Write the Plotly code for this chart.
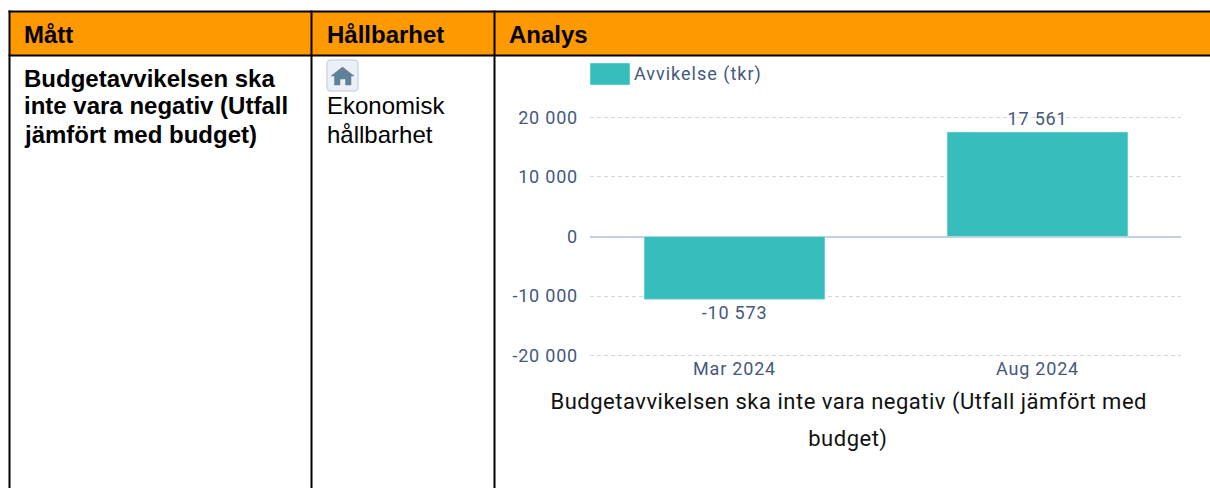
import plotly.graph_objects as go

W, H = 1210, 488

# ---- data ----
categories = ["Mar 2024", "Aug 2024"]
values = [-10573, 17561]
value_labels = ["-10 573", "17 561"]
series_name = "Avvikelse (tkr)"
tick_values = [20000, 10000, 0, -10000, -20000]
tick_labels = ["20 000", "10 000", "0", "-10 000", "-20 000"]
chart_title_lines = ["Budgetavvikelsen ska inte vara negativ (Utfall jämfört med", "budget)"]
table_headers = ["Mått", "Hållbarhet", "Analys"]
measure_lines = ["Budgetavvikelsen ska", "inte vara negativ (Utfall", "jämfört med budget)"]
sustain_lines = ["Ekonomisk", "hållbarhet"]

# ---- styles ----
TEAL = "#38BDBD"
AXIS_TEXT = "#44597C"
ORANGE = "#FF9900"
TABLE_FONT = "Liberation Sans"
CHART_FONT = "Roboto"


def px(x):
    return x / W


def py(y):
    return 1 - y / H


def rect(x0, y0, x1, y1, fill="rgba(0,0,0,0)", line=None, lw=0, layer="above"):
    return dict(type="rect", xref="paper", yref="paper", x0=px(x0), x1=px(x1), y0=py(y1), y1=py(y0),
                fillcolor=fill, line=dict(color=line or "rgba(0,0,0,0)", width=lw), layer=layer)


def label(x, y, text, size, color="#000", font=TABLE_FONT, anchor="left", bold=False):
    return dict(xref="paper", yref="paper", x=px(x), y=py(y), text=f"<b>{text}</b>" if bold else text,
                showarrow=False, xanchor=anchor, yanchor="middle", align=anchor,
                font=dict(family=font, size=size, color=color), borderpad=0, borderwidth=0)


shapes = [
    rect(10, 12, W, 55, fill=ORANGE, layer="below"),
    rect(8.5, 10.5, W, 12.5, fill="#000"),
    rect(8.5, 54.5, W, 56.5, fill="#000"),
    rect(8.5, 10.5, 10.5, H, fill="#000"),
    rect(310.5, 10.5, 312.5, H, fill="#000"),
    rect(493.5, 10.5, 495.5, H, fill="#000"),
    # legend swatch
    rect(590, 63, 630, 85, fill=TEAL, line="#E4F6F6", lw=0.5),
]

# home icon
ix0, iy0, ix1, iy1 = 327, 60, 358, 91
shapes.append(dict(type="path", xref="paper", yref="paper", layer="above",
                   path=("M {a} {t} L {b} {t} Q {r} {t} {r} {t2} L {r} {b2} Q {r} {bm} {b} {bm} "
                         "L {a} {bm} Q {l} {bm} {l} {b2} L {l} {t2} Q {l} {t} {a} {t} Z").format(
                       a=px(ix0 + 4), b=px(ix1 - 4), l=px(ix0), r=px(ix1),
                       t=py(iy0), t2=py(iy0 + 4), b2=py(iy1 - 4), bm=py(iy1)),
                   fillcolor="#EAF0F5", line=dict(color="#CFD9E3", width=1.5)))
house = [(342.5, 67), (354, 76), (351, 76), (351, 85), (345.5, 85), (345.5, 79), (340, 79),
         (340, 85), (334.5, 85), (334.5, 76), (331, 76)]
shapes.append(dict(type="path", xref="paper", yref="paper", layer="above",
                   path="M " + " L ".join(f"{px(a)} {py(b)}" for a, b in house) + " Z",
                   fillcolor="#5F8199", line=dict(color="#5F8199", width=0.5)))

annotations = [
    label(24, 34, table_headers[0], 24, bold=True),
    label(327, 34, table_headers[1], 24, bold=True),
    label(509, 34, table_headers[2], 24, bold=True),
]
for i, t in enumerate(measure_lines):
    annotations.append(label(24, 78 + i * 28, t, 24, bold=True))
for i, t in enumerate(sustain_lines):
    annotations.append(label(327, 106 + i * 28, t, 24))
annotations.append(label(634, 74, series_name, 18, color=AXIS_TEXT, font=CHART_FONT))
annotations.append(label(848, 402, chart_title_lines[0], 22, color="#111", font=CHART_FONT, anchor="center"))
annotations.append(label(848, 439, chart_title_lines[1], 22, color="#111", font=CHART_FONT, anchor="center"))

fig = go.Figure(go.Bar(
    x=categories, y=values, name=series_name, width=0.597,
    marker=dict(color=TEAL, line=dict(color="#DDF3F3", width=0.5)),
    text=value_labels, textposition="outside", cliponaxis=False, showlegend=False,
    textfont=dict(family=CHART_FONT, size=18, color=AXIS_TEXT),
))

fig.update_layout(
    width=W, height=H, autosize=False,
    margin=dict(l=0, r=0, t=0, b=0, pad=0),
    paper_bgcolor="#fff", plot_bgcolor="#fff",
    bargap=0.4, showlegend=False,
    shapes=shapes, annotations=annotations,
    xaxis=dict(domain=[px(590), px(1181)], type="category", range=[-0.4769, 1.4736], automargin=False,
               showgrid=False, zeroline=False, showline=False, ticks="",
               tickfont=dict(family=CHART_FONT, size=18, color=AXIS_TEXT), fixedrange=True,
               anchor="free", position=py(356), ticklabelstandoff=0),
    yaxis=dict(domain=[py(358.5), py(114.5)], range=[-20500, 20500], tickvals=tick_values, ticktext=tick_labels,
               automargin=False,
               showgrid=True, griddash="4px,3px", gridcolor="#CFD8E3", gridwidth=1,
               zeroline=True, zerolinecolor="#C2CFDC", zerolinewidth=1.5, showline=False, ticks="",
               tickfont=dict(family=CHART_FONT, size=18, color=AXIS_TEXT), ticklabelstandoff=11, fixedrange=True),
)

post = """
document.documentElement.style.margin='0';document.body.style.margin='0';document.body.style.overflow='hidden';
document.querySelectorAll('.xtick text,.ytick text,.bartext').forEach(e=>e.style.letterSpacing='0.8px');
document.querySelectorAll('.annotation-text').forEach(e=>{
  var t=e.textContent;
  if(t.indexOf('Avvikelse')===0) e.style.letterSpacing='1px';
  else if(t.indexOf('ska inte vara')>0 || t==='budget)') e.style.letterSpacing='0.5px';
});
"""
fig.write_html("out.html", post_script=post, config={"displayModeBar": False})
